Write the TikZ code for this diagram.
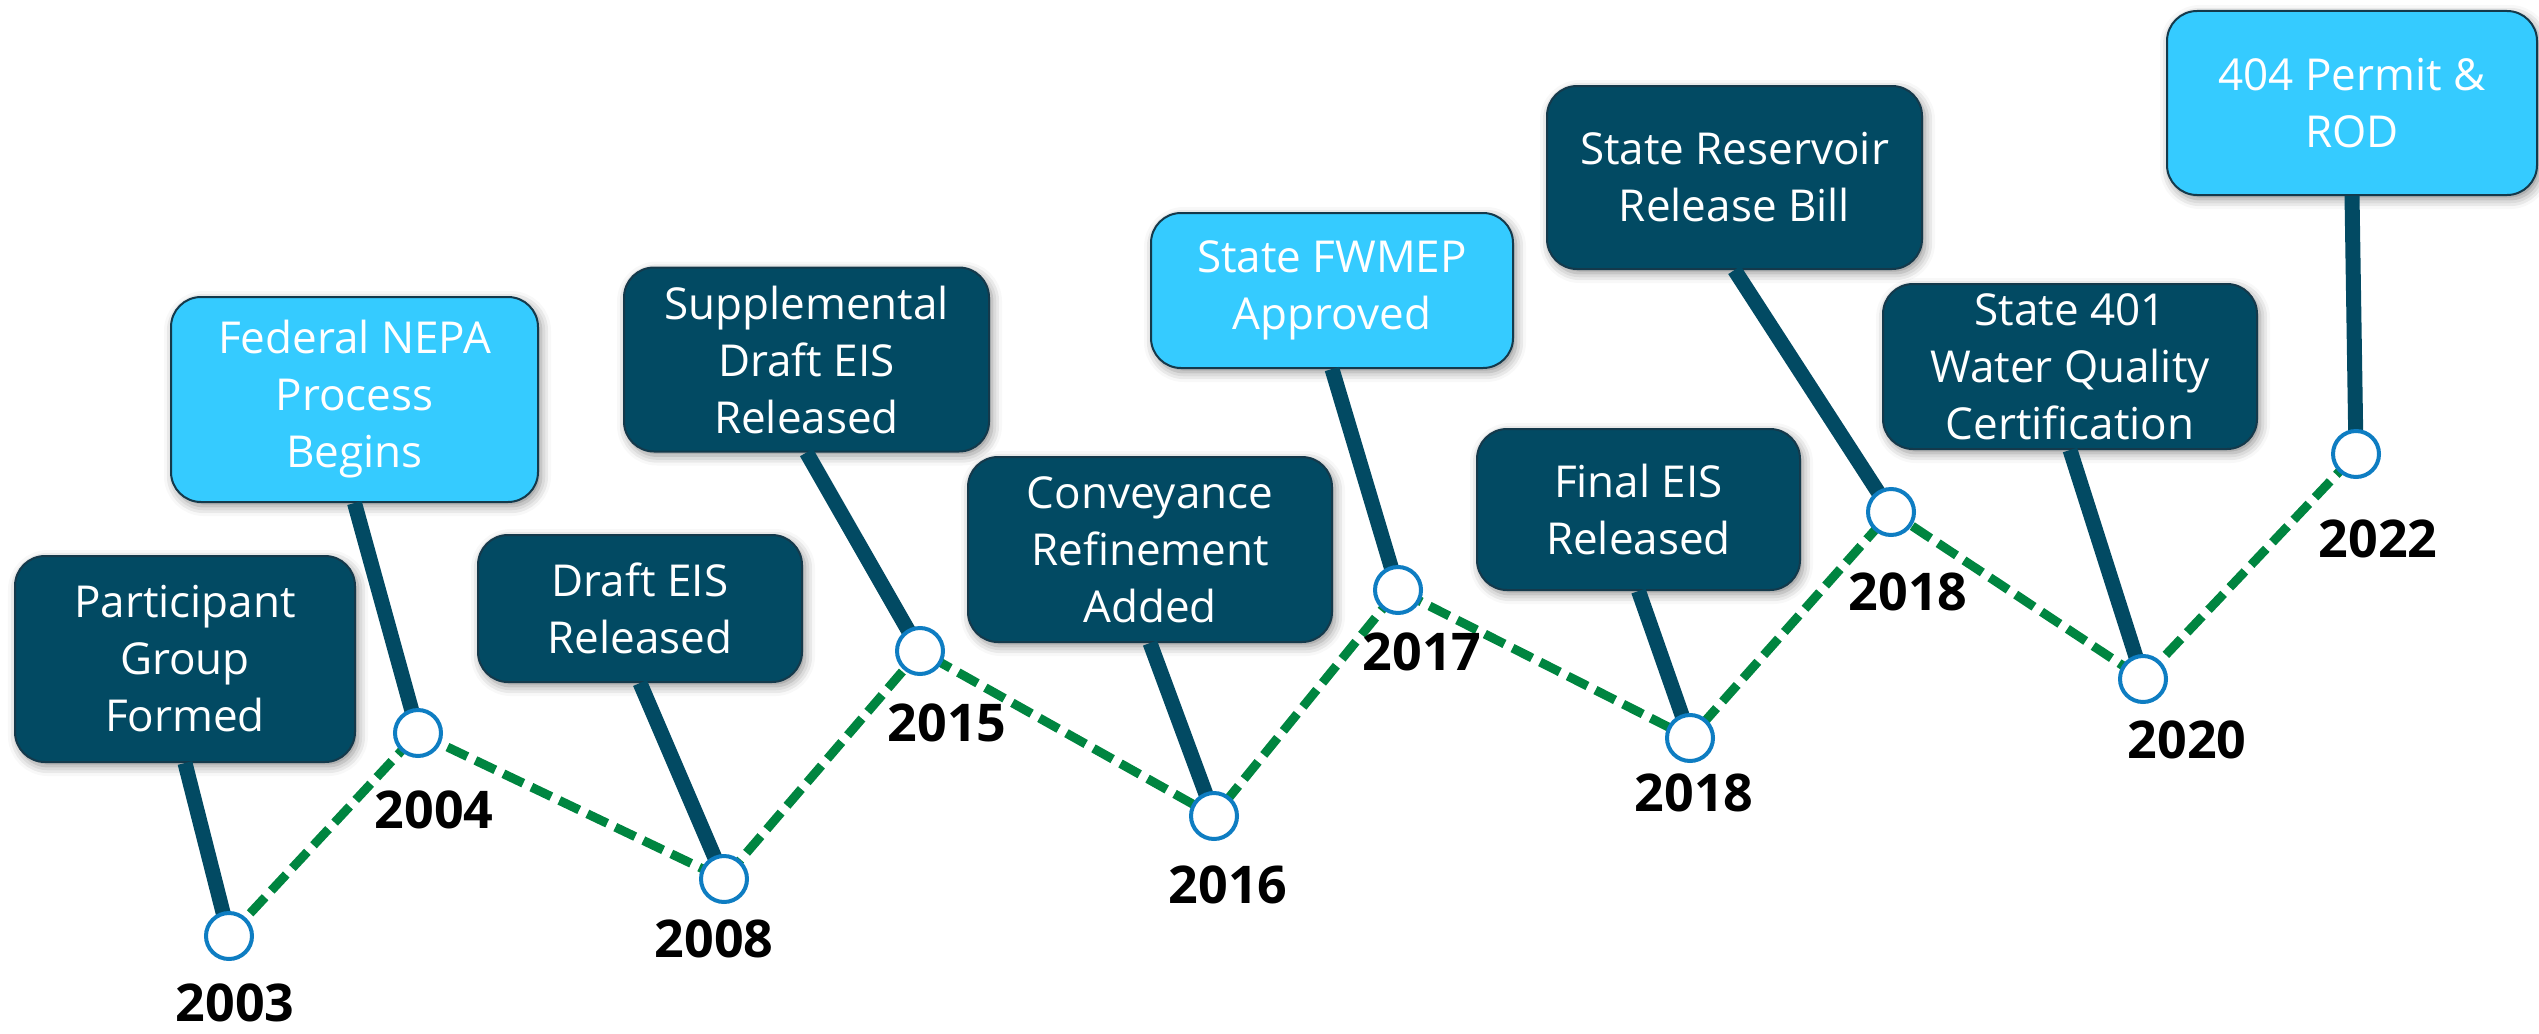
\documentclass[tikz,border=0pt]{standalone}
\usepackage{fontspec}
\setmainfont{Open Sans}
\usetikzlibrary{shadows.blur}
\definecolor{darkbox}{HTML}{024A63}
\definecolor{lightbox}{HTML}{35CBFF}
\definecolor{boxedge}{HTML}{14394B}
\definecolor{trailgreen}{HTML}{008540}
\definecolor{dotblue}{HTML}{0E7DC2}
\begin{document}
\begin{tikzpicture}[x=1pt,y=-1pt,
  evbox/.style={rounded corners=30pt, draw=boxedge, line width=2pt, text=white,
    inner sep=0pt, align=center, font=\fontsize{44}{57}\selectfont,
    blur shadow={shadow xshift=3pt, shadow yshift=-4pt, shadow blur radius=10pt, shadow opacity=45}},
  evdark/.style={evbox, fill=darkbox},
  evlight/.style={evbox, fill=lightbox},
  stem/.style={draw=darkbox, line width=15pt},
  trail/.style={draw=trailgreen, line width=9pt, dash pattern=on 22pt off 9pt},
  yrdot/.style={circle, draw=dotblue, line width=4pt, fill=white, minimum size=46pt, inner sep=0pt},
  yr/.style={font=\fontsize{52}{60}\selectfont\bfseries, text=black, inner sep=0pt}
]
\useasboundingbox (0,0) rectangle (2539,1033);
% circle centres
\coordinate (p1) at (229,936);
\coordinate (p2) at (418,733);
\coordinate (p3) at (724,879);
\coordinate (p4) at (920,651);
\coordinate (p5) at (1214,816);
\coordinate (p6) at (1398,590);
\coordinate (p7) at (1690,738);
\coordinate (p8) at (1891,512);
\coordinate (p9) at (2143,679);
\coordinate (p10) at (2356,454);
% boxes
\node[evdark, minimum width=340pt, minimum height=206pt] (b1) at (185,659) {Participant\\Group\\Formed};
\node[evlight, minimum width=367pt, minimum height=205pt] (b2) at (354.5,399.5) {Federal NEPA\\Process\\Begins};
\node[evdark, minimum width=324pt, minimum height=147pt] (b3) at (640,608.5) {Draft EIS\\Released};
\node[evdark, minimum width=365pt, minimum height=184pt] (b4) at (806.5,359.5) {Supplemental\\Draft EIS\\Released};
\node[evdark, minimum width=364pt, minimum height=185pt] (b5) at (1150,549.5) {Conveyance\\Refinement\\Added};
\node[evlight, minimum width=362pt, minimum height=155pt] (b6) at (1332,290.5) {State FWMEP\\Approved};
\node[evdark, minimum width=323pt, minimum height=161pt] (b7) at (1638.5,509.5) {Final EIS\\Released};
\node[evdark, minimum width=375pt, minimum height=183pt] (b8) at (1734.5,177.5) {State Reservoir\\Release Bill};
\node[evdark, minimum width=374pt, minimum height=165pt] (b9) at (2070,366.5) {State 401\\Water Quality\\Certification};
\node[evlight, minimum width=370pt, minimum height=184pt] (b10) at (2352,103) {404 Permit \&\\ROD};
% stems
\draw[stem] (b1.south) -- (p1);
\draw[stem] (b2.south) -- (p2);
\draw[stem] (b3.south) -- (p3);
\draw[stem] (b4.south) -- (p4);
\draw[stem] (b5.south) -- (p5);
\draw[stem] (b6.south) -- (p6);
\draw[stem] (b7.south) -- (p7);
\draw[stem] (b8.south) -- (p8);
\draw[stem] (b9.south) -- (p9);
\draw[stem] (b10.south) -- (p10);
% trail
\draw[trail] (p1) -- (p2) -- (p3) -- (p4) -- (p5) -- (p6) -- (p7) -- (p8) -- (p9) -- (p10);
% dots
\foreach \i in {1,...,10} { \node[yrdot] (c\i) at (p\i) {}; }
% years
\node[yr] (y1) at (235,1003) {2003};
\node[yr] (y2) at (434,810) {2004};
\node[yr] (y3) at (714,939) {2008};
\node[yr] (y4) at (947,723) {2015};
\node[yr] (y5) at (1228,885) {2016};
\node[yr] (y6) at (1422,652) {2017};
\node[yr] (y7) at (1694,793) {2018};
\node[yr] (y8) at (1908,592) {2018};
\node[yr] (y9) at (2187,740) {2020};
\node[yr] (y10) at (2378,539) {2022};
\end{tikzpicture}
\end{document}
